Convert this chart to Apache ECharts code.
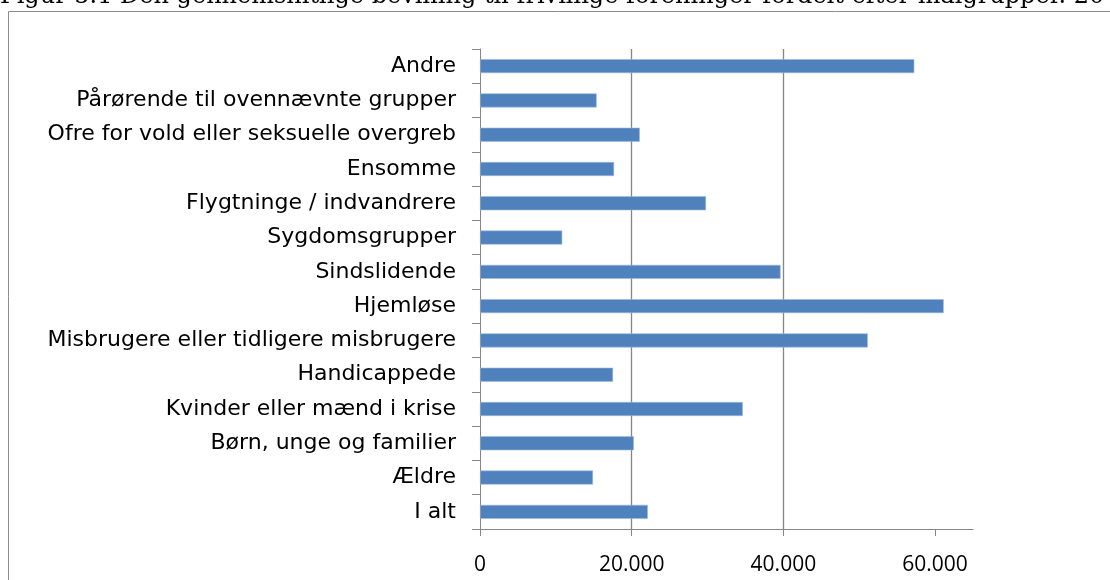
<!DOCTYPE html>
<html>
<head>
<meta charset="utf-8">
<script src="https://cdn.jsdelivr.net/npm/echarts@6/dist/echarts.min.js"></script>
<style>html,body{margin:0;padding:0;background:#fff;}#c{width:1110px;height:580px;}</style>
</head>
<body>
<div id="c"></div>
<script>
const titleText = 'Figur 5.1 Den gennemsnitlige bevilling til frivillige foreninger fordelt efter målgrupper. 20';
const categories = ['I alt','Ældre','Børn, unge og familier','Kvinder eller mænd i krise','Handicappede','Misbrugere eller tidligere misbrugere','Hjemløse','Sindslidende','Sygdomsgrupper','Flygtninge / indvandrere','Ensomme','Ofre for vold eller seksuelle overgreb','Pårørende til ovennævnte grupper','Andre'];
const values = [22130, 14900, 20280, 34650, 17540, 51130, 61140, 39630, 10840, 29800, 17680, 21070, 15380, 57260];
const xTicks = [0, 20000, 40000, 60000];

const chart = echarts.init(document.getElementById('c'), null, {renderer: 'canvas'});
const grey = '#868686';
chart.setOption({
  animation: false,
  backgroundColor: '#fff',
  graphic: [
    {type: 'rect', shape: {x: 8.5, y: 11.5, width: 1200, height: 700}, style: {fill: 'none', stroke: '#8c8c8c', lineWidth: 1}, silent: true},
    {type: 'text', x: 0, y: 9, style: {text: titleText, font: '24px "DejaVu Serif"', fill: '#000', verticalAlign: 'bottom'}, silent: true}
  ],
  grid: {left: 480, right: 137, top: 49, bottom: 51, containLabel: false},
  xAxis: {
    type: 'value', min: 0, max: 65000, interval: 20000,
    axisLine: {show: true, lineStyle: {color: grey, width: 1}},
    axisTick: {show: true, length: 7, lineStyle: {color: grey}, customValues: xTicks},
    axisLabel: {color: '#000', fontFamily: 'Open Sans', fontSize: 21, margin: 26, customValues: xTicks,
      formatter: v => v === 0 ? '0' : String(v).replace(/\B(?=(\d{3})+(?!\d))/g, '.')},
    splitLine: {show: true, showMinLine: false, showMaxLine: false, lineStyle: {color: grey, width: 1.3}}
  },
  yAxis: {
    type: 'category', data: categories,
    axisLine: {show: true, lineStyle: {color: grey, width: 1}},
    axisTick: {show: true, length: 8, lineStyle: {color: grey}},
    axisLabel: {color: '#000', fontFamily: 'DejaVu Sans', fontSize: 22, margin: 24},
    splitLine: {show: false}
  },
  series: [{
    type: 'bar', data: values, barWidth: 14,
    itemStyle: {color: '#4F81BD', borderColor: '#9DB8DB', borderWidth: 0.6}
  }]
});
</script>
</body>
</html>
